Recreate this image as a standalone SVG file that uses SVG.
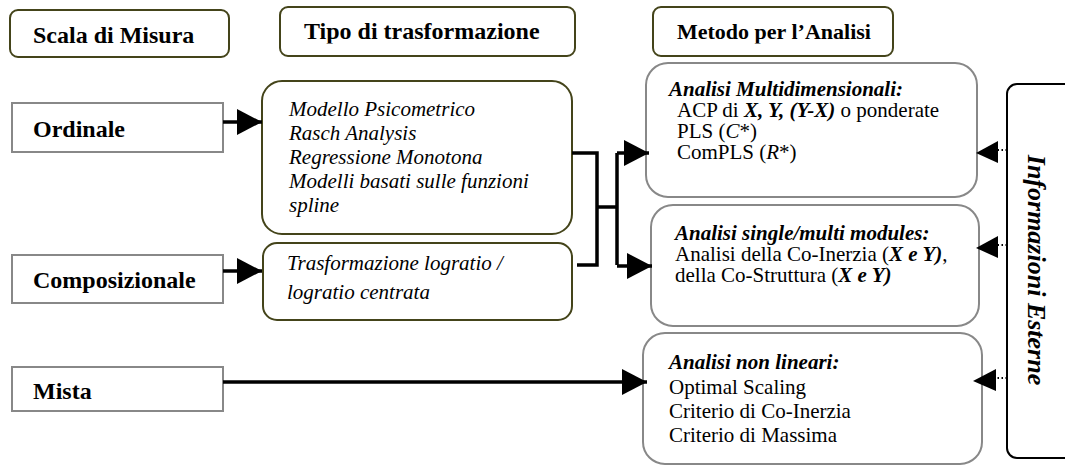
<svg xmlns="http://www.w3.org/2000/svg" width="1065" height="466" viewBox="0 0 1065 466">
<style>
.hdr{fill:#fff;stroke:#44441a;stroke-width:2}
.tr{fill:#fff;stroke:#44441a;stroke-width:2}
.sc{fill:#fff;stroke:#888;stroke-width:2}
.me{fill:#fff;stroke:#888;stroke-width:2}
.t{font-family:"Liberation Serif","Times New Roman",serif;fill:#000}
.b24{font-size:24px;font-weight:bold}
.b22{font-size:22px;font-weight:bold}
.i21{font-size:21px;font-style:italic}
.r21{font-size:21px}
.bi21{font-size:21px;font-weight:bold;font-style:italic}
.con{fill:none;stroke:#000;stroke-width:3.5}
.dot{fill:none;stroke:#000;stroke-width:2;stroke-dasharray:1.5 2.5}
</style>
<defs>
<marker id="ah" markerUnits="userSpaceOnUse" markerWidth="26" markerHeight="28" refX="25" refY="13" orient="auto">
<path d="M0,0 L25,13 L0,26 Z" fill="#000"/>
</marker>
<clipPath id="hc"><rect x="0" y="0" width="1065" height="43.5"/></clipPath>
</defs>

<g id="h1"><rect class="hdr" x="10" y="10" width="219" height="47" rx="8"/>
<text class="t b24" x="33" y="43">Scala di Misura</text></g>
<g id="h2"><rect class="hdr" x="280" y="7" width="295" height="49" rx="8"/>
<text class="t b24" x="304" y="39" clip-path="url(#hc)">Tipo di trasformazione</text></g>
<g id="h3"><rect class="hdr" x="653" y="7" width="240" height="49" rx="8"/>
<text class="t b22" x="677" y="39" clip-path="url(#hc)">Metodo per l’Analisi</text></g>

<g id="ordinale"><rect class="sc" x="12" y="103" width="211" height="49"/>
<text class="t b24" x="33" y="137">Ordinale</text></g>
<g id="composizionale"><rect class="sc" x="12" y="255" width="211" height="48"/>
<text class="t b24" x="33" y="288">Composizionale</text></g>
<g id="mista"><rect class="sc" x="12" y="367" width="211" height="44"/>
<text class="t b24" x="33" y="399">Mista</text></g>

<g id="tr1"><rect class="tr" x="262" y="81" width="310" height="153" rx="20"/>
<text class="t i21" x="289" y="116">Modello Psicometrico</text>
<text class="t i21" x="289" y="140">Rasch Analysis</text>
<text class="t i21" x="289" y="164">Regressione Monotona</text>
<text class="t i21" x="289" y="188">Modelli basati sulle funzioni</text>
<text class="t i21" x="289" y="212">spline</text></g>
<g id="tr2"><rect class="tr" x="263" y="243" width="309" height="77" rx="14"/>
<text class="t i21" x="287" y="270">Trasformazione logratio /</text>
<text class="t i21" x="287" y="299">logratio centrata</text></g>

<g id="m1"><rect class="me" x="646" y="63" width="331" height="134" rx="22"/>
<text class="t bi21" x="669" y="96">Analisi Multidimensionali:</text>
<text class="t r21" x="677" y="117">ACP di <tspan font-weight="bold" font-style="italic">X, Y, (Y-X)</tspan> o ponderate</text>
<text class="t r21" x="677" y="138">PLS (<tspan font-style="italic">C</tspan>*)</text>
<text class="t r21" x="677" y="159">ComPLS (<tspan font-style="italic">R</tspan>*)</text></g>
<g id="m2"><rect class="me" x="651" y="205" width="328" height="121" rx="22"/>
<text class="t bi21" x="675" y="240">Analisi single/multi modules:</text>
<text class="t r21" x="675" y="261">Analisi della Co-Inerzia (<tspan font-weight="bold" font-style="italic">X e Y)</tspan>,</text>
<text class="t r21" x="675" y="282">della Co-Struttura (<tspan font-weight="bold" font-style="italic">X e Y)</tspan></text></g>
<g id="m3"><rect class="me" x="643" y="333" width="339" height="131" rx="22"/>
<text class="t bi21" x="669" y="369">Analisi non lineari:</text>
<text class="t r21" x="669" y="394">Optimal Scaling</text>
<text class="t r21" x="669" y="418">Criterio di Co-Inerzia</text>
<text class="t r21" x="669" y="442">Criterio di Massima</text></g>

<g id="info"><rect x="1007" y="84" width="80" height="374" rx="10" fill="#fff" stroke="#000" stroke-width="2"/>
<text class="t" x="0" y="0" font-size="26" font-weight="bold" font-style="italic" text-anchor="middle" transform="translate(1028,270) rotate(90)">Informazioni Esterne</text></g>

<g id="connectors">
<path class="con" d="M223,122 H262" marker-end="url(#ah)"/>
<path class="con" d="M223,271 H262" marker-end="url(#ah)"/>
<path class="con" d="M223,382 H647" marker-end="url(#ah)"/>
<path class="con" d="M572,153 H597 V265 H577"/>
<path class="con" d="M597,207 H617"/>
<path class="con" d="M617,153 V265"/>
<path class="con" d="M617,153 H649" marker-end="url(#ah)"/>
<path class="con" d="M617,266 H652" marker-end="url(#ah)"/>
<path class="dot" d="M1007,150 H997"/>
<path d="M998,141 L976,153 L998,163 Z" fill="#000"/>
<path class="dot" d="M1007,245 H997"/>
<path d="M998,236 L976,248 L998,258 Z" fill="#000"/>
<path class="dot" d="M1007,378 H997"/>
<path d="M996,369 L973,381 L996,391 Z" fill="#000"/>
</g>
</svg>
